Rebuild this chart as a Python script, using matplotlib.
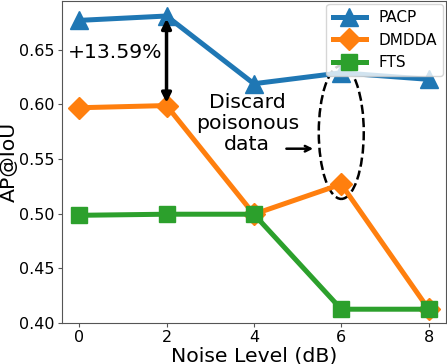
import numpy as np
import matplotlib.pyplot as plt
from matplotlib.patches import Ellipse

noise = [0, 2, 4, 6, 8]
pacp = [0.677, 0.681, 0.619, 0.629, 0.623]
dmdda = [0.597, 0.599, 0.4995, 0.527, 0.4125]
fts = [0.4985, 0.4995, 0.4995, 0.4125, 0.4125]

fig = plt.figure(figsize=(4.47, 3.64), dpi=100)
ax = fig.add_axes([0.138, 0.113, 0.86, 0.885])

ax.plot(noise, pacp, marker='^', color='tab:blue', lw=3.6, ms=13, label='PACP')
ax.plot(noise, dmdda, marker='D', color='tab:orange', lw=3.6, ms=11, label='DMDDA')
ax.plot(noise, fts, marker='s', color='tab:green', lw=3.6, ms=11, label='FTS')

# gain arrow
ax.annotate('', xy=(2, dmdda[1]), xytext=(2, pacp[1]),
            arrowprops=dict(arrowstyle='<|-|>', color='black', lw=2.5, mutation_scale=14))
ax.text(-0.26, 0.648, '+13.59%', fontsize=14.7, va='center', ha='left')

# discard ellipse
ax.add_patch(Ellipse((6.0, 0.5745), 1.03, 0.122, fill=False, ls='--', lw=1.8, ec='black'))
ax.text(3.85, 0.5825, 'Discard\npoisonous\ndata', fontsize=14.7, ha='center', va='center',
        linespacing=1.12)
ax.annotate('', xy=(5.42, 0.5595), xytext=(4.68, 0.5595),
            arrowprops=dict(arrowstyle='->', color='black', lw=1.8))

ax.set_xlim(-0.4, 8.4)
ax.set_ylim(0.40, 0.695)
ax.set_xticks(noise)
ax.set_yticks([0.40, 0.45, 0.50, 0.55, 0.60, 0.65])
ax.tick_params(labelsize=11.5, length=3, pad=2, color='#555555')
for s in ax.spines.values():
    s.set_color('#555555')
ax.set_xlabel('Noise Level (dB)', fontsize=14.7, labelpad=1)
ax.set_ylabel('AP@IoU', fontsize=14.7, va='center')
ax.yaxis.set_label_coords(-0.137, 0.5)
ax.legend(loc='upper right', fontsize=11, borderaxespad=0.2, handlelength=2.2)

fig.savefig('out.png', dpi=100)
